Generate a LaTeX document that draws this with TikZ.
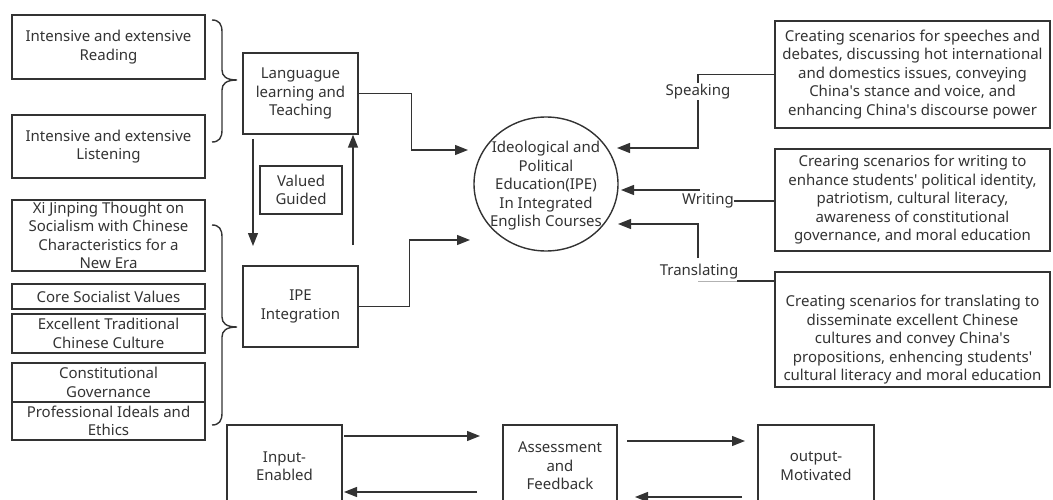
\documentclass[tikz,border=0pt]{standalone}
\usepackage{fontspec}
\setmainfont{Noto Sans}
\usetikzlibrary{arrows.meta,shapes.geometric}
\definecolor{ln}{HTML}{333333}
\definecolor{tx}{HTML}{333333}
\newcommand{\apos}{\textquotesingle}
\begin{document}
\begin{tikzpicture}[x=1pt,y=-1pt,
  every node/.style={font=\fontsize{15}{18.5}\selectfont, text=tx},
  box/.style={draw=ln, line width=1.4pt, align=center, inner sep=0pt},
  arr/.style={draw=ln, line width=1.4pt, -{Triangle[length=13pt,width=10pt]}},
  conn/.style={draw=ln, line width=1.4pt},
  lbl/.style={fill=white, inner sep=1pt}]
\useasboundingbox (0,0) rectangle (1053,500);

% left boxes
\node[box, minimum width=193pt, minimum height=64pt] (read) at (108.5,47) {Intensive and extensive\\Reading};
\node[box, minimum width=193pt, minimum height=63pt] (listen) at (108.5,146.5) {Intensive and extensive\\Listening};
\node[box, minimum width=193pt, minimum height=71pt] (xi) at (108.5,235.5) {Xi Jinping Thought on\\Socialism with Chinese\\Characteristics for a\\New Era};
\node[box, minimum width=193pt, minimum height=25pt] (core) at (108.5,296.5) {Core Socialist Values};
\node[box, minimum width=193pt, minimum height=39pt] (exc) at (108.5,333.5) {Excellent Traditional\\Chinese Culture};
\node[box, minimum width=193pt, minimum height=39pt] (cons) at (108.5,382.5) {Constitutional\\Governance};
\node[box, minimum width=193pt, minimum height=38pt] (prof) at (108.5,421) {Professional Ideals and\\Ethics};

% braces
\draw[conn] (212,20) .. controls (219,20) and (222,24) .. (222,32) -- (222,70)
  .. controls (222,76) and (226,80) .. (237,80)
  .. controls (226,80) and (222,84) .. (222,90) -- (222,130)
  .. controls (222,138) and (219,142) .. (212,142);
\draw[conn] (212,225) .. controls (219,225) and (222,229) .. (222,237) -- (222,317)
  .. controls (222,323) and (226,327) .. (237,327)
  .. controls (226,327) and (222,331) .. (222,337) -- (222,413)
  .. controls (222,421) and (219,425) .. (212,425);

% middle column
\node[box, minimum width=115pt, minimum height=81pt] (lang) at (300.5,93.5) {Languague\\learning and\\Teaching};
\node[box, minimum width=115pt, minimum height=81pt] (ipeint) at (300.5,306.5) {IPE\\Integration};
\node[box, minimum width=82pt, minimum height=48pt] (val) at (301,190) {Valued\\Guided};

\coordinate (vd1) at (253,139);
\coordinate (vd2) at (253,246);
\draw[arr] (vd1) -- (vd2);
\coordinate (vu1) at (353,245);
\draw[arr] (vu1) -- (vu1 |- lang.south);

% centre ellipse
\node[draw=ln, line width=1.4pt, ellipse, minimum width=144pt, minimum height=134pt, inner sep=0pt] (ipe) at (546,184) {};
\node[align=center, inner sep=0pt] (ipetxt) at (546,186) {Ideological and\\Political\\Education(IPE)\\In Integrated\\English Courses};

\coordinate (c1) at (468,150);
\draw[arr] (lang.east) -- ++(53,0) |- (c1);
\coordinate (c2) at (470,240);
\draw[arr] (ipeint.east) -- ++(51,0) |- (c2);

% right boxes
\node[box, minimum width=275pt, minimum height=107pt] (sp) at (912.5,74.5) {Creating scenarios for speeches and\\debates, discussing hot international\\and domestics issues, conveying\\China\apos s stance and voice, and\\enhancing China\apos s discourse power};
\node[box, minimum width=275pt, minimum height=102pt] (wr) at (912.5,200) {Crearing scenarios for writing to\\enhance students\apos{} political identity,\\patriotism, cultural literacy,\\awareness of constitutional\\governance, and moral education};
\node[box, minimum width=275pt, minimum height=115pt] (tr) at (912.5,329.5) {};
\node[align=center, inner sep=0pt] (trtxt) at (912.5,340) {Creating scenarios for translating to\\disseminate excellent Chinese\\cultures and convey China\apos s\\propositions, enhencing students\apos\\cultural literacy and moral education};

% speaking connector
\coordinate (s1) at (698,148);
\coordinate (c3) at (617,148);
\draw[arr] (sp.west) -| (s1) -- (c3);
\node[lbl] (spk) at (698,92) {Speaking};

% writing connector
\node[inner sep=0pt] (wlab) at (708,201) {Writing};
\draw[conn] (wlab.east) -- (wlab.east -| wr.west);
\coordinate (w1) at (700,190);
\coordinate (c4) at (621,190);
\draw[arr] (w1) -- (c4);

% translating connector
\node[inner sep=0pt] (tlab) at (699,272) {Translating};
\coordinate (t0) at (737,281);
\draw[conn] (t0) -- (t0 -| tr.west);
\draw[draw=gray!60, line width=0.6pt] (t0) -- ++(-39,0);
\coordinate (t1) at (698,258);
\coordinate (c5) at (618,224);
\draw[arr] (t1) |- (c5);

% bottom row
\node[box, minimum width=115pt, minimum height=82pt] (inp) at (284.5,466) {Input-\\Enabled};
\node[box, minimum width=114pt, minimum height=82pt] (ass) at (560,466) {Assessment\\and\\Feedback};
\node[box, minimum width=116pt, minimum height=82pt] (outm) at (816,466) {output-\\Motivated};

\coordinate (b1) at (344,436);
\coordinate (b2) at (480,436);
\draw[arr] (b1) -- (b2);
\coordinate (b3) at (477,492);
\coordinate (b4) at (344,492);
\draw[arr] (b3) -- (b4);
\coordinate (b5) at (627,441);
\coordinate (b6) at (745,441);
\draw[arr] (b5) -- (b6);
\coordinate (b7) at (742,497);
\coordinate (b8) at (635,497);
\draw[arr] (b7) -- (b8);
\end{tikzpicture}
\end{document}
